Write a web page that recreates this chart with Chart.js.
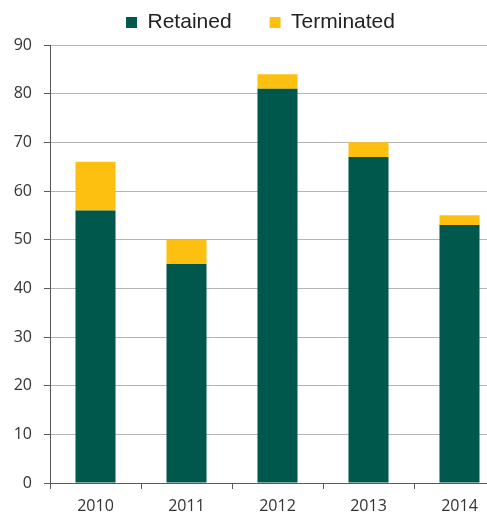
<!DOCTYPE html>
<html><head><meta charset="utf-8">
<script src="https://cdn.jsdelivr.net/npm/chart.js@4/dist/chart.umd.min.js"></script>
<style>html,body{margin:0;padding:0;background:#fff;overflow:hidden}#wrap{width:487px;height:515px;overflow:hidden;position:relative;background:#fff}canvas{display:block}</style>
</head><body><div id="wrap"><canvas id="c" width="546" height="515" style="width:546px;height:515px"></canvas></div>
<script>
const categories = ['2010', '2011', '2012', '2013', '2014'];
const retained = [56, 45, 81, 67, 53];
const terminated = [10, 5, 3, 3, 2];
const yMin = 0, yMax = 90, yStep = 10;

const GREEN = '#00574B';
const YELLOW = '#FDC010';
const AXIS = '#595959';
const GRID = '#b5b5b5';

const legendShift = {
  id: 'legendShift',
  afterLayout(chart) {
    if (chart.legend) {
      chart.legend.left += 8; chart.legend.right += 8;
      chart.legend.top -= 2; chart.legend.bottom -= 2;
    }
  }
};

new Chart(document.getElementById('c'), {
  type: 'bar',
  data: {
    labels: categories,
    datasets: [
      { label: 'Retained', data: retained, backgroundColor: GREEN, borderWidth: 0 },
      { label: 'Terminated', data: terminated, backgroundColor: YELLOW, borderWidth: 0 }
    ]
  },
  plugins: [legendShift],
  options: {
    responsive: false,
    devicePixelRatio: 1,
    animation: false,
    layout: { padding: { top: -29, right: 41, left: 0, bottom: 0 } },
    datasets: { bar: { categoryPercentage: 1, barPercentage: 0.44 } },
    plugins: {
      tooltip: { enabled: false },
      legend: {
        position: 'top',
        align: 'center',
        labels: {
          boxWidth: 11, boxHeight: 11, padding: 38,
          color: '#222',
          font: { family: '"Liberation Sans", Arial, sans-serif', size: 21 }
        }
      }
    },
    scales: {
      x: {
        stacked: true,
        grid: { offset: true, drawOnChartArea: false, drawTicks: true, tickLength: 6, color: AXIS },
        border: { color: AXIS, width: 1 },
        ticks: { color: '#333', padding: 8, font: { family: '"Open Sans", sans-serif', size: 16 } },
        afterFit: s => { s.height = 32; }
      },
      y: {
        stacked: true,
        min: yMin, max: yMax,
        grid: {
          color: c => (c.tick && c.tick.value === 0) ? AXIS : GRID,
          tickColor: AXIS, tickLength: 6, lineWidth: 1
        },
        border: { color: AXIS, width: 1 },
        ticks: { stepSize: yStep, color: '#333', padding: 12, font: { family: '"Open Sans", sans-serif', size: 16 } },
        afterFit: s => { s.width = 50; s.paddingTop = 45; }
      }
    }
  }
});
</script></body></html>
